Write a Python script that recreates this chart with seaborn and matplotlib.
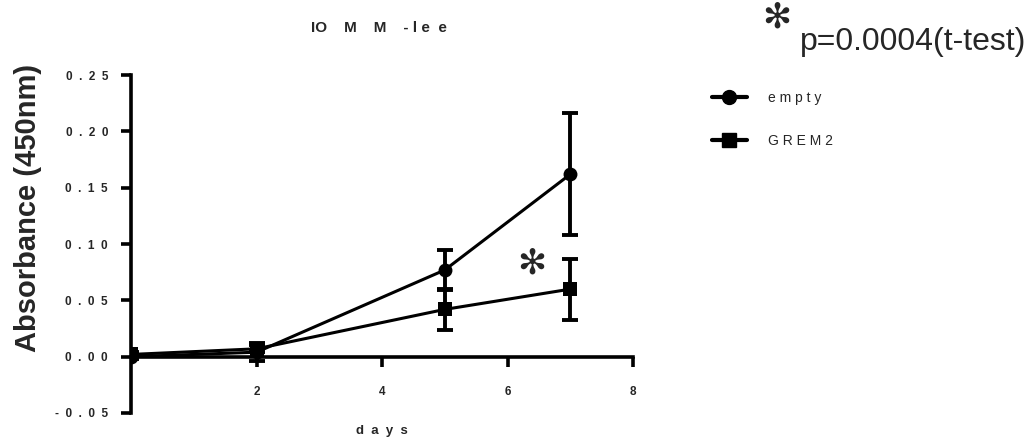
import matplotlib
matplotlib.use("Agg")
import matplotlib.pyplot as plt
import seaborn as sns
import pandas as pd
from matplotlib.lines import Line2D

days = [0, 2, 5, 7]
empty_mean = [0.000, 0.004, 0.077, 0.162]
empty_err = [0.002, 0.008, 0.018, 0.054]
grem2_mean = [0.002, 0.007, 0.042, 0.060]
grem2_err = [0.002, 0.003, 0.018, 0.027]
series = ["e m p t y", "G R E M 2"]
y_ticks = [-0.05, 0.00, 0.05, 0.10, 0.15, 0.20, 0.25]
y_labels = ["-  0  .  0  5", "0  .  0  0", "0  .  0  5", "0  .  1  0",
            "0  .  1  5", "0  .  2  0", "0  .  2  5"]
x_ticks = [2, 4, 6, 8]
x_labels = ["2", "4", "6", "8"]

sns.set_theme(style="ticks")
plt.rcParams["font.family"] = ["Liberation Sans", "DejaVu Sans"]

df = pd.DataFrame({
    "days": days * 2,
    "abs": empty_mean + grem2_mean,
    "err": empty_err + grem2_err,
    "group": [series[0]] * 4 + [series[1]] * 4,
})

fig = plt.figure(figsize=(10.35, 4.41), dpi=100)
ax = fig.add_axes([0.1266, 0.0635, 0.485, 0.766])

sns.lineplot(data=df, x="days", y="abs", hue="group", style="group",
             markers={series[0]: "o", series[1]: "s"}, dashes=False,
             palette={series[0]: "black", series[1]: "black"},
             linewidth=2.2, markersize=10, markeredgewidth=0, ax=ax, legend=False)
for g in series:
    sub = df[df["group"] == g]
    ax.errorbar(sub["days"], sub["abs"], yerr=sub["err"], fmt="none",
                ecolor="black", elinewidth=2.8, capsize=5.5, capthick=2.8, zorder=3)

ax.set_xlim(0, 8)
ax.set_ylim(-0.05, 0.25)
ax.spines["right"].set_visible(False)
ax.spines["top"].set_visible(False)
ax.spines["bottom"].set_position(("data", 0))
for s in ["left", "bottom"]:
    ax.spines[s].set_linewidth(2.6)
    ax.spines[s].set_color("black")
ax.set_yticks(y_ticks)
ax.set_yticklabels(y_labels, fontsize=8.5, fontweight="bold")
ax.set_xticks(x_ticks)
ax.set_xticklabels(x_labels, fontsize=8.5, fontweight="bold")
ax.tick_params(axis="y", length=7, width=2.6, pad=9.5, color="black")
ax.tick_params(axis="x", length=7, width=2.6, pad=14, color="black")
ax.set_xlabel("")
ax.set_ylabel("")

fig.text(28 / 1035, 1 - 208 / 441, "Absorbance (450nm)", fontsize=21,
         fontweight="bold", rotation=90, ha="center", va="center")
fig.text(382 / 1035, 1 - 431 / 441, "d  a  y  s", fontsize=9.5,
         fontweight="bold", ha="center", va="center")
fig.text(379 / 1035, 1 - 28 / 441, "IO    M    M    - l e  e", fontsize=11,
         fontweight="bold", ha="center", va="center")

ax.text(6.38, 0.083, "\u273b", fontsize=25, ha="center", va="center",
        family=["DejaVu Sans"], transform=ax.transData)

handles = [Line2D([], [], color="black", lw=3, marker="o", markersize=10),
           Line2D([], [], color="black", lw=3, marker="s", markersize=10)]
fig.legend(handles, series, loc="upper left",
           bbox_to_anchor=(712 / 1035, 1 - 91 / 441), borderpad=0,
           borderaxespad=0, frameon=False, fontsize=10, handlelength=2.5,
           labelspacing=2.1, handletextpad=1.5)

fig.text(777 / 1035, 1 - 18 / 441, "\u273b", fontsize=25, ha="center",
         va="center", family=["DejaVu Sans"])
fig.text(800 / 1035, 1 - 50 / 441, "p=0.0004(t-test)", fontsize=23,
         ha="left", va="baseline")

fig.savefig("out.png", dpi=100)
